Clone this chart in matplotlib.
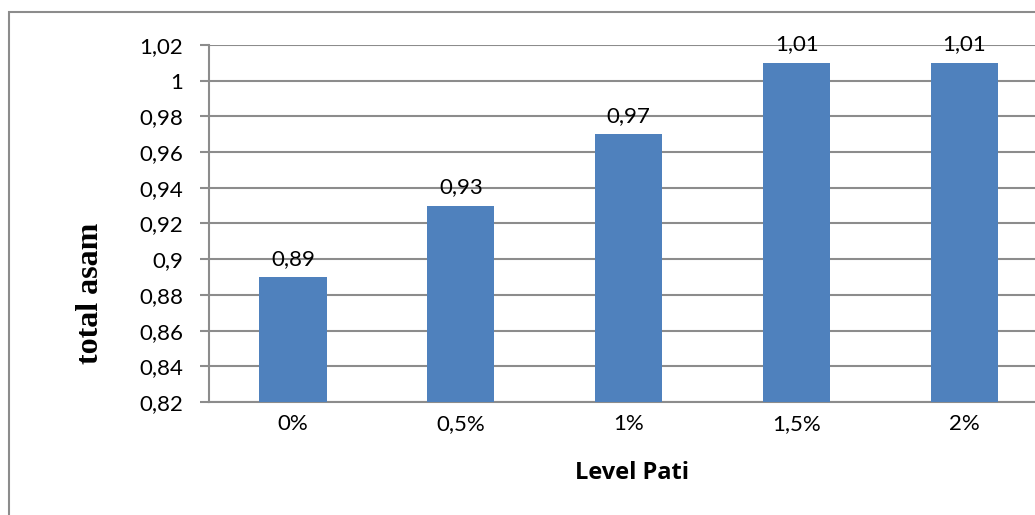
import matplotlib.pyplot as plt
import matplotlib.patches as patches
from matplotlib.ticker import FixedLocator, FuncFormatter

# total asam per level pati
levels = ['0%', '0,5%', '1%', '1,5%', '2%']
total_asam = [0.89, 0.93, 0.97, 1.01, 1.01]
y_ticks = [0.82, 0.84, 0.86, 0.88, 0.90, 0.92, 0.94, 0.96, 0.98, 1.00, 1.02]

W, H = 1035, 515
fig = plt.figure(figsize=(W / 100, H / 100), dpi=100)

# outer chart border (open on the right and bottom edges)
fig.patches.append(patches.Rectangle((9 / W, -0.1), 1.2, 1 - 12 / H + 0.1,
                                     transform=fig.transFigure, fill=False,
                                     edgecolor='#8c8c8c', linewidth=1.5))

ax = fig.add_axes([209 / W, 1 - 402 / H, (1048.5 - 209) / W, (402 - 45) / H])

grid_col = '#8c8c8c'
x = range(len(levels))
bars = ax.bar(x, total_asam, width=0.4, color='#4F81BD', zorder=3)

ax.set_xlim(-0.5, len(levels) - 0.5)
ax.set_ylim(0.82, 1.02)
ax.yaxis.set_major_locator(FixedLocator(y_ticks))
ax.yaxis.set_major_formatter(FuncFormatter(lambda v, p: ('%g' % round(v, 2)).replace('.', ',')))
ax.grid(axis='y', color=grid_col, linewidth=1.5, zorder=0)

for s in ['top', 'right']:
    ax.spines[s].set_visible(False)
for s in ['left', 'bottom']:
    ax.spines[s].set_color(grid_col)
    ax.spines[s].set_linewidth(1.5)

tick_font = 'Lato'
fs = 16
ax.set_xticks(list(x))
ax.set_xticklabels(levels, fontsize=fs, family=tick_font)
ax.tick_params(axis='x', length=0, pad=9)
ax.tick_params(axis='y', length=6.5, width=1.5, color=grid_col, pad=12, labelsize=fs)
for lbl in ax.get_yticklabels():
    lbl.set_family(tick_font)

for b, v in zip(bars, total_asam):
    ax.annotate(('%.2f' % v).replace('.', ','), (b.get_x() + b.get_width() / 2, v),
                xytext=(0, 6), textcoords='offset points', ha='center', va='bottom',
                fontsize=fs, family=tick_font, annotation_clip=False)

# axis titles
fig.text(632 / W, 1 - 479 / H, 'Level Pati', fontsize=17, fontweight='bold',
         family='Open Sans', ha='center', va='baseline')
fig.text(91 / W, 1 - 293 / H, 'total asam', fontsize=23, fontweight='bold',
         family='Liberation Serif', rotation=90, ha='center', va='center')

fig.savefig('out.png', dpi=100)
